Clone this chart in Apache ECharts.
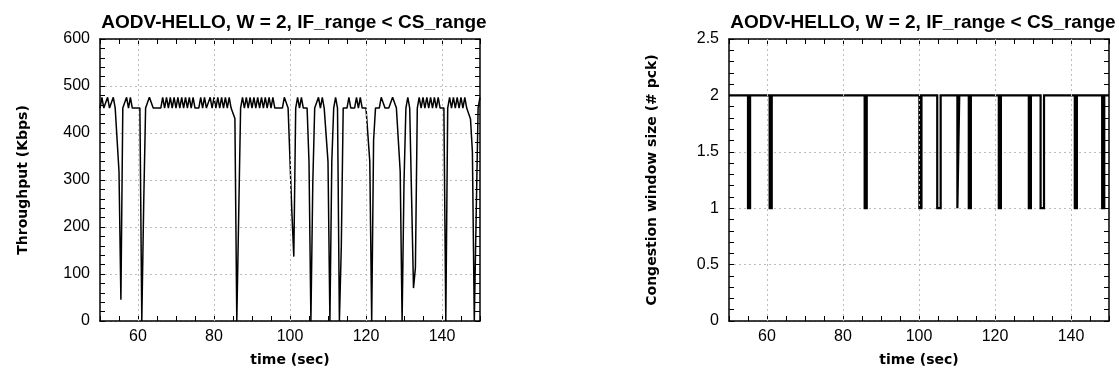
<!DOCTYPE html>
<html><head><meta charset="utf-8">
<script src="https://cdn.jsdelivr.net/npm/echarts@6/dist/echarts.min.js"></script>
<style>html,body{margin:0;padding:0;background:#fff}#c{width:1119px;height:373px}</style>
</head><body><div id="c"></div>
<script>
// ---------- data ----------
const chartTitle = 'AODV-HELLO, W = 2, IF_range < CS_range';
const xName = 'time (sec)';
const leftYName = 'Throughput (Kbps)';
const rightYName = 'Congestion window size (# pck)';
const xLabelTicks = [60, 80, 100, 120, 140];

// throughput samples, every 0.5 s starting at 50 s
const sampleStart = 50, sampleStep = 0.5;
const tp50  = [453,476,453,453,476,453,453,476,453,453, 318,45,453,453,476,453,476,453,453,453];
const tp60  = [453,453,0,250,453,453,476,476,453,453, 453,453,453,476,453,476,453,476,453,476];
const tp70  = [453,476,453,476,453,476,453,476,453,476, 453,453,453,476,453,476,453,453,476,453];
const tp80  = [476,453,476,453,476,453,476,453,476,453, 453,431,0,226,453,476,453,476,453,476];
const tp90  = [453,476,453,476,453,476,453,476,453,476, 453,476,453,453,453,453,453,476,476,453];
const tp100 = [453,230,137,453,476,453,476,453,453,453, 339,0,294,453,453,476,453,476,453,453];
const tp110 = [339,0,339,453,476,453,0,158,453,453, 453,476,453,453,453,476,453,476,453,453];
const tp120 = [453,453,339,0,385,453,453,453,476,476, 453,453,453,453,476,476,453,453,318,0];
const tp130 = [294,453,476,453,262,70,113,453,476,453, 476,453,476,453,476,453,476,453,476,453];
const tp140 = [453,453,0,453,476,453,476,453,476,453, 476,453,476,453,453,430,360,0,0,453,476];

// congestion window: value holds from each time until the next
const cwndTimes  = [50, 55.0,55.55, 60.7,61.25, 85.7,86.25, 100.1,100.65, 104.8,105.7, 110.1,110.6, 113.1,113.65, 121.0,121.55, 128.9,129.45, 132.0,132.9, 141.0,141.55, 148.2,148.75, 150];
const cwndValues = [2,  1,2,      1,2,        1,2,        1,2,          1,2,         1,2,         1,2,          1,2,          1,2,          1,2,         1,2,          1,2,          2];

// ---------- build ----------
const tpValues = [].concat(tp50, tp60, tp70, tp80, tp90, tp100, tp110, tp120, tp130, tp140);
const tpData = tpValues.map((v, i) => [sampleStart + i * sampleStep, v]);
const cwndData = cwndTimes.map((t, i) => [t, cwndValues[i]]);

const labelFont = { fontFamily: 'Liberation Sans', fontSize: 16, color: '#000' };
const nameFont = { fontFamily: 'DejaVu Sans', fontWeight: 'bold', fontSize: 14, color: '#000' };
const titleFont = { fontFamily: 'Liberation Sans', fontWeight: 'bold', fontSize: 19, color: '#000' };
const gridStyle = { color: '#bdbdbd', type: [2, 3], width: 1 };
const axisLineStyle = { color: '#000', width: 1.5 };

function xAx(grid, pos, main) {
  return {
    type: 'value', gridIndex: grid, position: pos, min: 50, max: 150, interval: 5,
    axisLine: { show: true, onZero: false, lineStyle: axisLineStyle },
    axisTick: { show: true, inside: true, length: 5, lineStyle: { color: '#000', width: 1 } },
    axisLabel: main ? Object.assign({ show: true, margin: 8,
      formatter: v => xLabelTicks.includes(v) ? String(v) : '' }, labelFont) : { show: false },
    splitLine: { show: false },
    name: main ? xName : '', nameLocation: 'middle', nameGap: 32, nameTextStyle: nameFont
  };
}
function yAx(grid, pos, main, max, interval, name) {
  return {
    type: 'value', gridIndex: grid, position: pos, min: 0, max: max, interval: interval,
    axisLine: { show: true, onZero: false, lineStyle: axisLineStyle },
    axisTick: { show: true, inside: true, length: 5, lineStyle: { color: '#000', width: 1 } },
    minorTick: { show: true, splitNumber: 5, length: 5, lineStyle: { color: '#000', width: 1 } },
    axisLabel: main ? Object.assign({ show: true, margin: 10 }, labelFont) : { show: false },
    splitLine: { show: main, lineStyle: gridStyle },
    name: main ? name : '', nameLocation: 'middle', nameGap: 70, nameTextStyle: nameFont
  };
}
function gridLines(xi, yi) {
  return {
    type: 'line', xAxisIndex: xi, yAxisIndex: yi, data: [], z: 1, silent: true,
    markLine: { silent: true, symbol: ['none', 'none'], label: { show: false },
      lineStyle: gridStyle, animation: false,
      data: xLabelTicks.map(v => ({ xAxis: v })) }
  };
}

const option = {
  animation: false,
  backgroundColor: '#fff',
  title: [
    { text: chartTitle, left: 289, top: 8, textAlign: 'center', textStyle: titleFont },
    { text: chartTitle, left: 918, top: 8, textAlign: 'center', textStyle: titleFont }
  ],
  grid: [
    { left: 100, top: 39, width: 380, height: 282 },
    { left: 729, top: 39, width: 380, height: 282 }
  ],
  xAxis: [ xAx(0, 'bottom', true), xAx(0, 'top', false), xAx(1, 'bottom', true), xAx(1, 'top', false) ],
  yAxis: [
    yAx(0, 'left', true, 600, 100, leftYName), yAx(0, 'right', false, 600, 100, ''),
    yAx(1, 'left', true, 2.5, 0.5, rightYName), yAx(1, 'right', false, 2.5, 0.5, '')
  ],
  series: [
    gridLines(0, 0),
    gridLines(2, 2),
    { type: 'line', xAxisIndex: 0, yAxisIndex: 0, data: tpData, showSymbol: false, z: 3,
      lineStyle: { color: '#000', width: 1.5 } },
    { type: 'line', xAxisIndex: 2, yAxisIndex: 2, data: cwndData, step: 'end', showSymbol: false, z: 3,
      lineStyle: { color: '#000', width: 2.2, join: 'miter' } }
  ]
};
const chart = echarts.init(document.getElementById('c'), null, { renderer: 'canvas' });
chart.setOption(option);
</script></body></html>
